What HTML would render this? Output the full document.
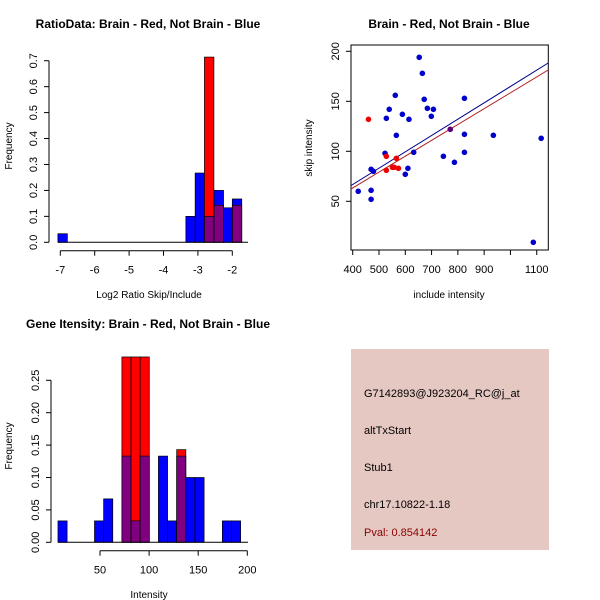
<!DOCTYPE html>
<html><head><meta charset="utf-8"><style>
body{margin:0;background:#fff}
svg{display:block;font-family:"Liberation Sans",sans-serif}
</style></head><body>
<svg id="s" width="600" height="600" viewBox="0 0 600 600">
<rect width="600" height="600" fill="#fff"/>
<g id="p1"></g>
<g id="p2"></g>
<g id="p3"></g>
<g>
<rect x="351" y="349" width="198" height="201" fill="#e6c8c2"/>
<text x="364" y="397" font-size="11">G7142893@J923204_RC@j_at</text>
<text x="364" y="434" font-size="11">altTxStart</text>
<text x="364" y="471" font-size="11">Stub1</text>
<text x="364" y="508" font-size="11">chr17.10822-1.18</text>
<text x="364" y="536" font-size="11" fill="#8b0000">Pval: 0.854142</text>
</g>
</svg>
<script>
// ---- data: plot 1 ----
const p1BinStarts=[-7.07,-3.35,-3.08,-2.81,-2.53,-2.26,-2.0];
const p1Blue=[0.033,0.1,0.267,0.1,0.2,0.133,0.167];
const p1Red=[0,0,0,0.714,0.143,0,0.143];
const p1XTicks=[-7,-6,-5,-4,-3,-2];
const p1YTicks=[0,0.1,0.2,0.3,0.4,0.5,0.6,0.7];
// ---- data: plot 2 ----
const p2BlueX=[421,470,470,470,479,523,528,539,562,566,589,614,600,610,632,653,665,672,684,699,707,745,787,771,825,825,825,935,1087,1117];
const p2BlueY=[60,61,52,82,80,98,133,142,156,116,137,132,77,83,99,194,178,152,143,135,142,95,89,122,153,117,99,116,9,113];
const p2RedX=[460,528,528,551,558,566,574,771];
const p2RedY=[132,95,81,84,84,93,83,122];
const p2Fits=[{slope:0.1634,intercept:1.4,color:"#00008b"},{slope:0.1586,intercept:-0.1,color:"#b22222"}];
const p2XTicks=[400,500,600,700,800,900,1000,1100];
const p2XLabels=["400","500","600","700","800","900","","1100"];
const p2YTicks=[50,100,150,200];
// ---- data: plot 3 ----
const p3BinStarts=[7.2,16.5,25.8,35.1,44.4,53.7,63,72.3,81.6,90.9,100.2,109.5,118.8,128.1,137.4,146.7,156,165.3,174.6,183.9];
const p3Blue=[0.033,0,0,0,0.033,0.067,0,0.133,0.033,0.133,0,0.133,0.033,0.133,0.1,0.1,0,0,0.033,0.033];
const p3Red=[0,0,0,0,0,0,0,0.286,0.286,0.286,0,0,0,0.143,0,0,0,0,0,0];
const p3XTicks=[50,100,150,200];
const p3YTicks=[0,0.05,0.1,0.15,0.2,0.25];

const NS="http://www.w3.org/2000/svg";
function mk(parent,tag,attrs,text){const e=document.createElementNS(NS,tag);for(const k in attrs)e.setAttribute(k,attrs[k]);if(text!==undefined)e.textContent=text;parent.appendChild(e);return e;}

function histogram(g,o){
  const sx=v=>o.x0+(v-o.d0)*o.kx, sy=v=>o.y0-v*o.ky;
  for(let i=0;i<o.starts.length;i++){
    const b=o.blue[i],r=o.red[i];
    const x=sx(o.starts[i]), w=o.bw*o.kx;
    const top=Math.max(b,r), lo=Math.min(b,r);
    if(top>0){
      const rc=mk(g,"rect",{x:x,y:sy(top),width:w,height:sy(0)-sy(top),fill:r>b?"#ff0000":"#0000ff",stroke:"#000","stroke-width":0.7});
      
      
    }
    if(lo>0){
      const pc=mk(g,"rect",{x:x,y:sy(lo),width:w,height:sy(0)-sy(lo),fill:"#800080",stroke:"#000","stroke-width":0.7});
      
      
    }
  }
  mk(g,"line",{x1:o.baseL,x2:o.baseR,y1:sy(0),y2:sy(0),stroke:"#000"});
  const xt=o.xticks;
  mk(g,"line",{x1:sx(xt[0]),x2:sx(xt[xt.length-1]),y1:o.axY,y2:o.axY,stroke:"#000"});
  xt.forEach(t=>{mk(g,"line",{x1:sx(t),x2:sx(t),y1:o.axY,y2:o.axY+5,stroke:"#000"});
    const tl=mk(g,"text",{x:sx(t),y:o.axY+23,"font-size":11,"text-anchor":"middle"},String(t));
    });
  const yt=o.yticks;
  mk(g,"line",{x1:o.axX,x2:o.axX,y1:sy(yt[0]),y2:sy(yt[yt.length-1]),stroke:"#000"});
  yt.forEach(t=>{mk(g,"line",{x1:o.axX,x2:o.axX-5,y1:sy(t),y2:sy(t),stroke:"#000"});
    const tl=mk(g,"text",{x:o.axX-12,y:sy(t),"font-size":11,"text-anchor":"middle",transform:`rotate(-90 ${o.axX-12} ${sy(t)})`},t.toFixed(o.dec));
    });
  const tt=mk(g,"text",{x:o.tx,y:o.ty,"font-size":12,"font-weight":"bold","text-anchor":"middle"},o.title);
  
  const xl=mk(g,"text",{x:o.xlx,y:o.xly,"font-size":10,"text-anchor":"middle"},o.xlab);
  
  const yl=mk(g,"text",{x:12,y:o.yly,"font-size":10,"text-anchor":"middle",transform:`rotate(-90 12 ${o.yly})`},"Frequency");
  
}

histogram(document.getElementById("p1"),{starts:p1BinStarts,blue:p1Blue,red:p1Red,bw:0.275,
  x0:60.3,d0:-7,kx:34.4,y0:242.3,ky:259.4,baseL:58,baseR:248,axY:250.7,axX:49,
  xticks:p1XTicks,yticks:p1YTicks,dec:1,title:"RatioData: Brain - Red, Not Brain - Blue",tx:148,ty:28,
  xlab:"Log2 Ratio Skip/Include",xlx:149,xly:298,yly:146});

histogram(document.getElementById("p3"),{starts:p3BinStarts,blue:p3Blue,red:p3Red,bw:9.3,
  x0:100,d0:50,kx:0.982,y0:542.3,ky:648,baseL:58,baseR:248,axY:550.7,axX:51,
  xticks:p3XTicks,yticks:p3YTicks,dec:2,title:"Gene Itensity: Brain - Red, Not Brain - Blue",tx:148,ty:328,
  xlab:"Intensity",xlx:149,xly:598,yly:446});

(function(){
  const g=document.getElementById("p2");
  const sx=v=>352.7+(v-400)*0.2629, sy=v=>51.3+(200-v)*1.0;
  mk(g,"rect",{x:351,y:45,width:197.3,height:205,fill:"none",stroke:"#000"});
  p2XTicks.forEach((t,i)=>{mk(g,"line",{x1:sx(t),x2:sx(t),y1:250,y2:255,stroke:"#000"});
    const tl=mk(g,"text",{x:sx(t),y:273,"font-size":11,"text-anchor":"middle"},p2XLabels[i]);
    });
  p2YTicks.forEach(t=>{mk(g,"line",{x1:351,x2:346,y1:sy(t),y2:sy(t),stroke:"#000"});
    const tl=mk(g,"text",{x:339,y:sy(t),"font-size":11,"text-anchor":"middle",transform:`rotate(-90 339 ${sy(t)})`},String(t));
    });
  const cp=mk(g,"clipPath",{id:"c2"});mk(cp,"rect",{x:351,y:45,width:197.3,height:205});
  const lg=mk(g,"g",{"clip-path":"url(#c2)"});
  p2Fits.forEach(f=>{const a=380,b=1160;
    const ln=mk(lg,"line",{x1:sx(a),y1:sy(f.intercept+f.slope*a),x2:sx(b),y2:sy(f.intercept+f.slope*b),stroke:f.color,"stroke-width":1});
    });
  p2BlueX.forEach((x,i)=>{const c=mk(g,"circle",{cx:sx(x),cy:sy(p2BlueY[i]),r:2.8,fill:"#0000cd"});
    });
  p2RedX.forEach((x,i)=>{const c=mk(g,"circle",{cx:sx(x),cy:sy(p2RedY[i]),r:2.8,fill:"#ee0000","fill-opacity":i==7?0.4:1});
    });
  const tt=mk(g,"text",{x:449,y:28,"font-size":12,"font-weight":"bold","text-anchor":"middle"},"Brain - Red, Not Brain - Blue");
  
  const xl=mk(g,"text",{x:449,y:298,"font-size":10,"text-anchor":"middle"},"include intensity");
  
  const yl=mk(g,"text",{x:312,y:148,"font-size":10,"text-anchor":"middle",transform:"rotate(-90 312 148)"},"skip intensity");
  
})();
</script>
</body></html>
